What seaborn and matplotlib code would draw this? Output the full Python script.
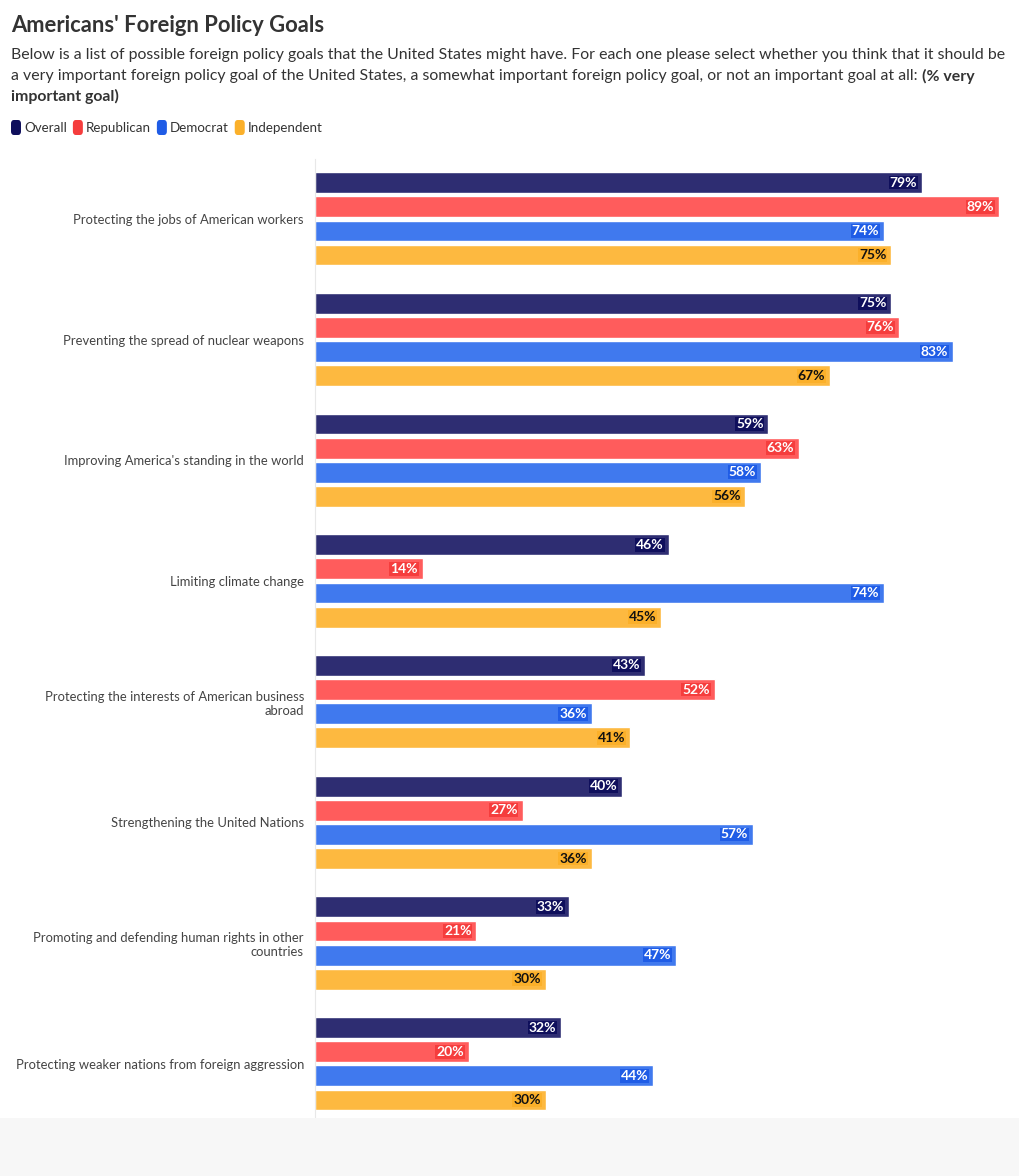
import matplotlib
matplotlib.use("Agg")
import matplotlib.pyplot as plt
import seaborn as sns
import pandas as pd
from matplotlib.patches import FancyBboxPatch, Rectangle

categories = [
    "Protecting the jobs of American workers",
    "Preventing the spread of nuclear weapons",
    "Improving America's standing in the world",
    "Limiting climate change",
    "Protecting the interests of American business\nabroad",
    "Strengthening the United Nations",
    "Promoting and defending human rights in other\ncountries",
    "Protecting weaker nations from foreign aggression",
]
series = ["Overall", "Republican", "Democrat", "Independent"]
overall = [79, 75, 59, 46, 43, 40, 33, 32]
republican = [89, 76, 63, 14, 52, 27, 21, 20]
democrat = [74, 83, 58, 74, 36, 57, 47, 44]
independent = [75, 67, 56, 45, 41, 36, 30, 30]

bar_colors = ["#2e2d72", "#ff5c5c", "#4079ee", "#fdb940"]
key_colors = ["#0f0f5c", "#f53d3d", "#1f5ce6", "#fbb02a"]
label_colors = ["white", "white", "white", "#111111"]

sns.set_theme(style="white")
plt.rcParams['font.family'] = ['Lato', 'DejaVu Sans']

W, H = 1020, 1176
fig = plt.figure(figsize=(W / 100, H / 100), dpi=100)
fig.patch.set_facecolor("white")
fig.patches.append(Rectangle((0, 0), 1, (H - 1118) / H, transform=fig.transFigure,
                             facecolor="#f7f7f7", edgecolor="none", zorder=0))

top_px, height_px = 158.5, 965.6
ax = fig.add_axes([315 / W, (H - top_px - height_px) / H, (W - 315) / W, height_px / H])
ax.set_facecolor("none")

rows = []
for name, vals in zip(series, [overall, republican, democrat, independent]):
    for c, v in zip(categories, vals):
        rows.append({"goal": c, "group": name, "value": v})
df = pd.DataFrame(rows)

sns.barplot(data=df, y="goal", x="value", hue="group", hue_order=series,
            order=categories, palette=bar_colors, orient="h", width=0.8,
            gap=0.14, saturation=1, legend=False, ax=ax, err_kws={"linewidth": 0})

ax.set_xlim(0, 89 * 705 / 684)
ax.set_xlabel("")
ax.set_ylabel("")
ax.set_xticks([])
ax.tick_params(axis="y", length=0, pad=8, labelsize=9.4, labelcolor="#444444")
for s in ["top", "right", "bottom"]:
    ax.spines[s].set_visible(False)
ax.spines["left"].set_color("#e8e8e8")
ax.spines["left"].set_linewidth(0.8)
ax.spines["left"].set_bounds(-0.5 + (1124 - 1118) / 120.7 * 0 + 7.95 - 7.95 + 0, 7.5)
ax.set_ylim(7.5 + 0.0, -0.5)

for i, cont in enumerate(ax.containers):
    for bar in cont:
        v = bar.get_width()
        ax.annotate(f"{v:.0f}%", xy=(v, bar.get_y() + bar.get_height() / 2),
                    xytext=(-3.5, 0), textcoords="offset points", ha="right", va="center",
                    fontsize=10, fontweight="bold", color=label_colors[i],
                    bbox=dict(boxstyle="square,pad=0.06", fc=key_colors[i], ec="none"))

def fy(y):
    return 1 - y / H

fig.text(11 / W, fy(26), "Americans' Foreign Policy Goals", fontsize=15.8,
         fontweight="bold", color="#333333", va="center", ha="left")

line1 = ("Below is a list of possible foreign policy goals that the United States might have. "
         "For each one please select whether you think that it should be")
line2 = ("a very important foreign policy goal of the United States, a somewhat important "
         "foreign policy goal, or not an important goal at all: ")
renderer = fig.canvas.get_renderer()
t1 = fig.text(11 / W, fy(55), line1, fontsize=12, color="#333333", va="center", ha="left")
w1 = t1.get_window_extent(renderer=renderer).width
sub_fs = 12 * 987 / w1
t1.set_fontsize(sub_fs)
t2 = fig.text(11 / W, fy(76), line2, fontsize=sub_fs, color="#333333", va="center", ha="left")
bb = t2.get_window_extent(renderer=renderer)
fig.text(bb.x1 / W, fy(76), "(% very", fontsize=sub_fs, fontweight="bold",
         color="#333333", va="center", ha="left")
fig.text(11 / W, fy(96), "important goal)", fontsize=sub_fs, fontweight="bold",
         color="#333333", va="center", ha="left")

x = 11
for name, col in zip(series, key_colors):
    fig.patches.append(FancyBboxPatch((x / W, fy(135)), 10 / W, 15 / H,
                                      boxstyle="round,pad=0,rounding_size=0.003",
                                      transform=fig.transFigure, facecolor=col,
                                      edgecolor="none"))
    t = fig.text((x + 13) / W, fy(128), name, fontsize=9.6, color="#333333",
                 va="center", ha="left")
    bb = t.get_window_extent(renderer=renderer)
    x = bb.x1 + 6

fig.savefig("out.png", dpi=100)
